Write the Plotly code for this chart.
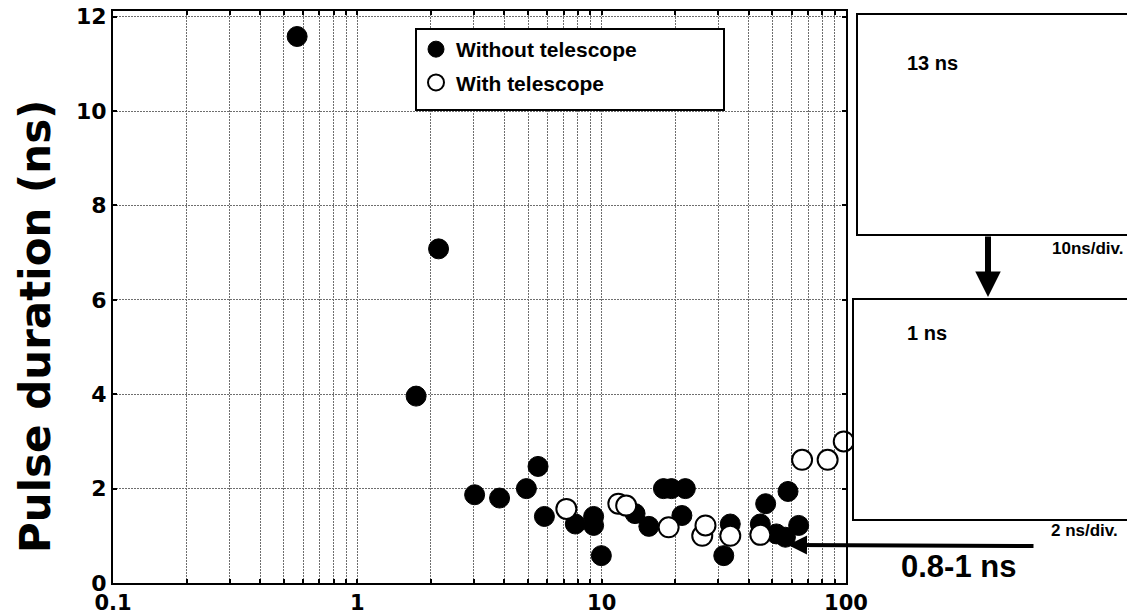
import plotly.graph_objects as go

# ---------------- data ----------------
without_x = [0.567, 1.74, 2.15, 3.02, 3.82, 4.92, 5.49, 5.83, 7.80, 9.27, 9.27, 9.97,
             13.7, 15.6, 17.9, 19.3, 22.0, 21.3, 31.6, 33.6, 44.6, 46.9, 51.9, 56.5, 57.9, 64.0]
without_y = [11.58, 3.96, 7.08, 1.87, 1.80, 2.00, 2.47, 1.41, 1.25, 1.41, 1.22, 0.58,
             1.47, 1.20, 2.00, 2.00, 2.00, 1.43, 0.58, 1.25, 1.25, 1.68, 1.04, 0.97, 1.94, 1.22]

with_x = [7.17, 11.7, 12.6, 18.8, 25.8, 26.6, 33.6, 44.6, 66.1, 84.1, 97.9]
with_y = [1.57, 1.68, 1.64, 1.18, 1.00, 1.22, 1.00, 1.02, 2.61, 2.61, 3.00]

series_names = ["Without telescope", "With telescope"]
x_decades = [0.1, 1, 10, 100]
x_tick_labels = ["0.1", "1", "10", "100"]
y_ticks = [0, 2, 4, 6, 8, 10, 12]
y_title = "Pulse duration (ns)"
inset_labels = ["13 ns", "10ns/div.", "1 ns", "2 ns/div.", "0.8-1 ns"]

# log-axis grid: every 1..9 multiple inside each decade
x_tickvals = [m * d for d in x_decades[:-1] for m in range(1, 10)] + [x_decades[-1]]
x_ticktext = [x_tick_labels[x_decades.index(v)] if v in x_decades else "" for v in x_tickvals]

FONT = "Liberation Sans, Arial, Helvetica, sans-serif"
WIDE = "DejaVu Sans, Verdana, sans-serif"

W, H = 1127, 616
PL, PR, PT, PB = 113, 846, 11, 583   # plot area in pixels


def fx(px):
    return (px - PL) / (PR - PL)


def fy(py):
    return (PB - py) / (PB - PT)


fig = go.Figure()

fig.add_trace(go.Scatter(
    x=without_x, y=without_y, mode="markers", name=series_names[0],
    legendgroup="a", cliponaxis=False,
    marker=dict(size=20, color="black", line=dict(color="black", width=1)),
))
fig.add_trace(go.Scatter(
    x=with_x, y=with_y, mode="markers", name=series_names[1],
    legendgroup="b", cliponaxis=False,
    marker=dict(size=20, color="white", line=dict(color="black", width=2)),
))

grid = dict(gridcolor="#6e6e6e", gridwidth=1, griddash="2px,1px")

fig.update_xaxes(
    type="log", range=[-1, 2],
    tickmode="array", tickvals=x_tickvals, ticktext=x_ticktext,
    showgrid=True, **grid,
    showline=True, linecolor="black", linewidth=2, mirror="ticks",
    ticks="inside", ticklen=4, tickwidth=1.5, tickcolor="black",
    tickfont=dict(family=WIDE, size=21, color="black", weight="bold"),
    ticklabeloverflow="allow",
    zeroline=False,
)
fig.update_yaxes(
    range=[0, 12.12],
    tickmode="array", tickvals=y_ticks, ticktext=[str(v) for v in y_ticks],
    showgrid=True, **grid,
    showline=True, linecolor="black", linewidth=2, mirror="ticks",
    ticks="inside", ticklen=4, tickwidth=1.5, tickcolor="black",
    tickfont=dict(family=WIDE, size=22, color="black", weight="bold"),
    ticklabeloverflow="allow",
    zeroline=False,
)

shapes = [
    # legend frame
    dict(type="rect", xref="paper", yref="paper", layer="above",
         x0=fx(416), x1=fx(724), y0=fy(110), y1=fy(29),
         line=dict(color="black", width=2), fillcolor="white"),
    # upper inset frame
    dict(type="rect", xref="paper", yref="paper", layer="above",
         x0=fx(857), x1=fx(1140), y0=fy(235), y1=fy(14),
         line=dict(color="black", width=2), fillcolor="white"),
    # lower inset frame
    dict(type="rect", xref="paper", yref="paper", layer="above",
         x0=fx(853), x1=fx(1140), y0=fy(520), y1=fy(299),
         line=dict(color="black", width=2), fillcolor="white"),
]

annotations = [
    # y-axis title
    dict(text=y_title, x=fx(35), y=fy(327), xanchor="center", yanchor="middle", textangle=-90,
         font=dict(family=WIDE, size=42, color="black", weight="bold")),
    dict(text=inset_labels[0], x=fx(905), y=fy(63), xanchor="left", yanchor="middle",
         font=dict(family=FONT, size=20, color="black", weight="bold")),
    dict(text=inset_labels[1], x=fx(1050), y=fy(248), xanchor="left", yanchor="middle",
         font=dict(family=FONT, size=17, color="black", weight="bold")),
    dict(text=inset_labels[2], x=fx(905), y=fy(333), xanchor="left", yanchor="middle",
         font=dict(family=FONT, size=20, color="black", weight="bold")),
    dict(text=inset_labels[3], x=fx(1049), y=fy(530), xanchor="left", yanchor="middle",
         font=dict(family=FONT, size=17, color="black", weight="bold")),
    dict(text=inset_labels[4], x=fx(899), y=fy(566), xanchor="left", yanchor="middle",
         font=dict(family=FONT, size=31, color="black", weight="bold")),
    # vertical arrow between insets
    dict(text="", x=fx(988), y=fy(297), ax=0, ay=-62, showarrow=True,
         arrowhead=2, arrowwidth=6, arrowsize=0.85, arrowcolor="black", standoff=0),
    # horizontal arrow pointing at the 0.8-1 ns points
    dict(text="", x=fx(788), y=fy(545), ax=247, ay=1, showarrow=True,
         arrowhead=2, arrowwidth=4, arrowsize=0.95, arrowcolor="black", standoff=0),
]
for a in annotations:
    a.setdefault("xref", "paper")
    a.setdefault("yref", "paper")
    a.setdefault("showarrow", False)

fig.update_layout(
    width=W, height=H,
    margin=dict(l=PL, r=W - PR, t=PT, b=H - PB, autoexpand=False),
    paper_bgcolor="white", plot_bgcolor="white",
    showlegend=True,
    legend=dict(x=fx(416), y=fy(29), xanchor="left", yanchor="top",
                bgcolor="rgba(0,0,0,0)", borderwidth=0,
                traceorder="grouped", tracegroupgap=3,
                font=dict(family=FONT, size=21, color="black", weight="bold")),
    shapes=shapes, annotations=annotations,
)

# remove the browser's default 8px page margin so the figure fills the window exactly
fig.write_html(
    "out.html",
    config={"displayModeBar": False},
    post_script="document.body.style.margin='0';document.documentElement.style.overflow='hidden';",
)
